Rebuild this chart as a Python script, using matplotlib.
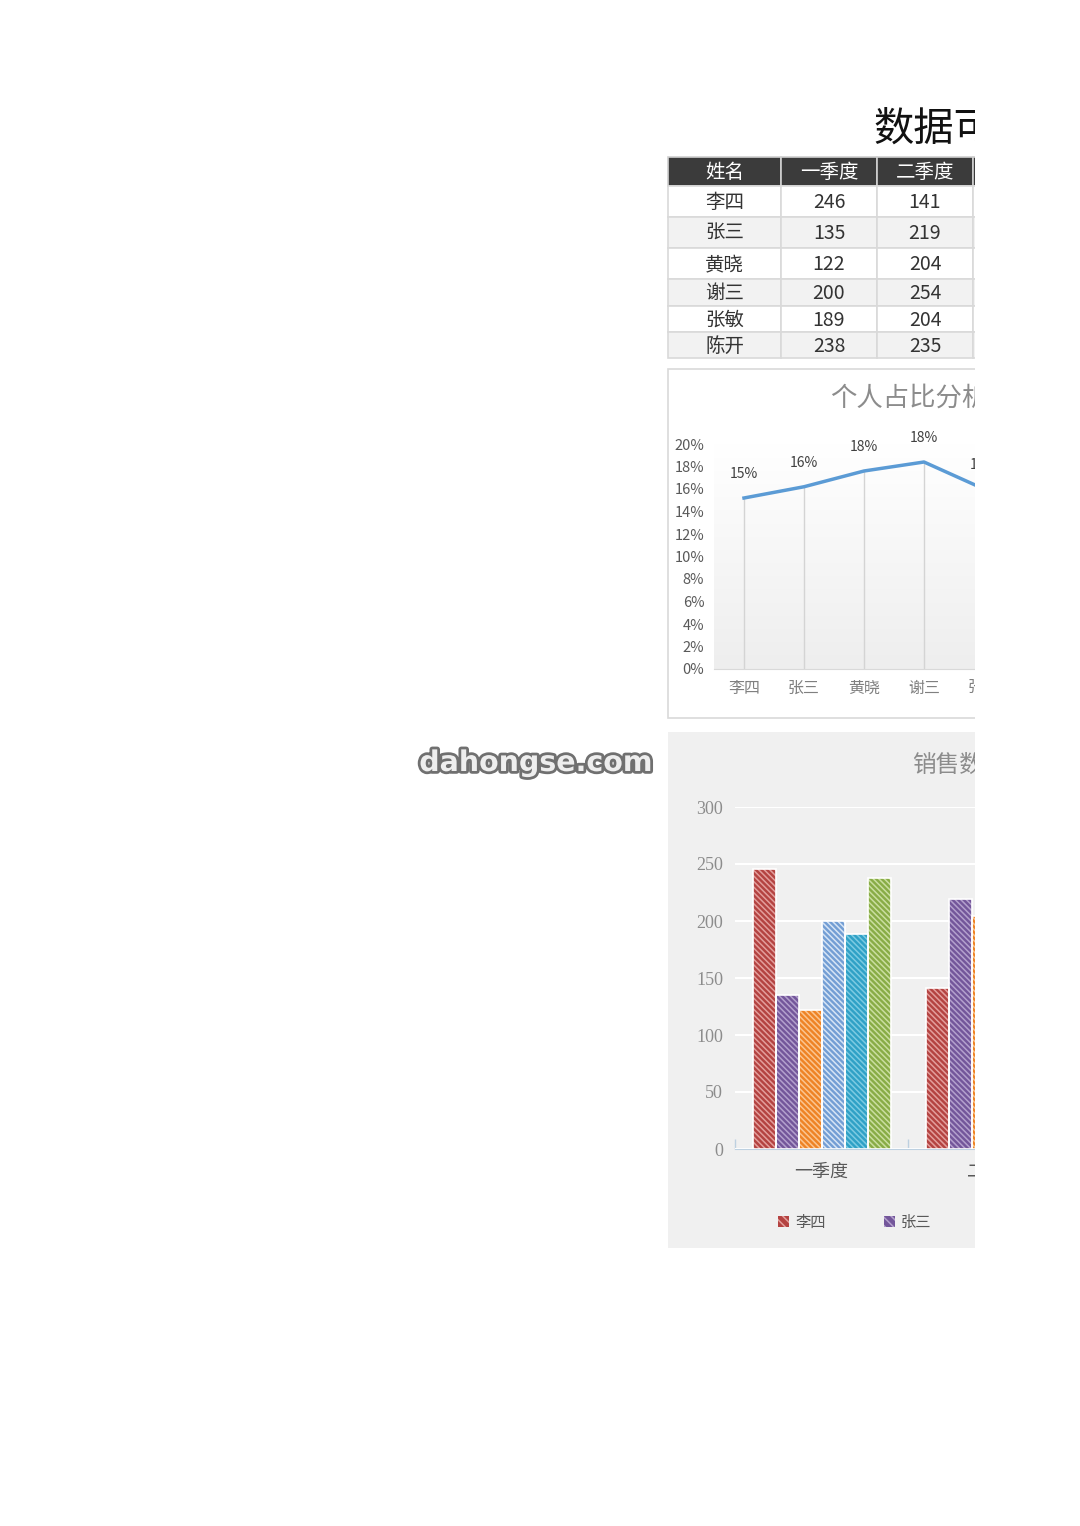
import numpy as np
import matplotlib
matplotlib.use("Agg")
import matplotlib.pyplot as plt
from matplotlib.patches import Rectangle, Patch
from matplotlib.colors import LinearSegmentedColormap
import matplotlib.patheffects as pe

plt.rcParams["font.family"] = ["Noto Sans CJK SC", "DejaVu Sans"]
plt.rcParams["axes.unicode_minus"] = False
plt.rcParams["hatch.linewidth"] = 1.1

# 数据
names = ["李四", "张三", "黄晓", "谢三", "张敏", "陈开"]
quarters = ["一季度", "二季度"]
q1 = [246, 135, 122, 200, 189, 238]
q2 = [141, 219, 204, 254, 204, 235]
share = [0.152, 0.162, 0.176, 0.184, 0.160, 0.167]

BASE = ["#b44341", "#73569a", "#ee8325", "#739ed4", "#2fa1c6", "#88ac46"]
LIGHT = ["#e39e9c", "#b3a0cd", "#fbc590", "#d6e4f5", "#7ccbe2", "#cadea0"]

W, H = 1080, 1526
fig = plt.figure(figsize=(W / 100, H / 100), dpi=100)
fig.patch.set_facecolor("white")


def fx(px):
    return px / W


def fy(py):
    return 1 - py / H


# 背景层: 表格和图表框
bg = fig.add_axes([0, 0, 1, 1], zorder=-1)
bg.set_xlim(0, W)
bg.set_ylim(H, 0)
bg.axis("off")

fig.text(fx(873), fy(129), "数据可视", fontsize=29, color="#111111",
         ha="left", va="center")

col_edges = [668, 781, 877, 973, 1070]
row_edges = [157, 186, 217, 248, 279, 306, 332, 358]
header = ["姓名"] + quarters + ["合计"]
table_rows = [[n, str(a), str(b), str(a + b)] for n, a, b in zip(names, q1, q2)]

for j, txt in enumerate(header):
    x0, x1 = col_edges[j], col_edges[j + 1]
    bg.add_patch(Rectangle((x0, row_edges[0]), x1 - x0, row_edges[1] - row_edges[0],
                           facecolor="#3b3b3b", edgecolor="#d0d0d0", lw=1.2))
    bg.text((x0 + x1) / 2, (row_edges[0] + row_edges[1]) / 2 + 1, txt,
            color="white", fontsize=14, ha="center", va="center")
for i, row in enumerate(table_rows):
    y0, y1 = row_edges[i + 1], row_edges[i + 2]
    fc = "white" if i % 2 == 0 else "#f2f2f2"
    for j, txt in enumerate(row):
        x0, x1 = col_edges[j], col_edges[j + 1]
        bg.add_patch(Rectangle((x0, y0), x1 - x0, y1 - y0, facecolor=fc,
                               edgecolor="#d9d9d9", lw=1.2))
        bg.text((x0 + x1) / 2, (y0 + y1) / 2 + 1, txt, color="#333333",
                fontsize=14, ha="center", va="center")

# 图表框
bg.add_patch(Rectangle((668, 369), 700, 349, facecolor="white", edgecolor="#d9d9d9", lw=1.2))
bg.add_patch(Rectangle((668, 732), 800, 516, facecolor="#f0f0f0", edgecolor="none"))

# 水印
wm = fig.text(fx(536), fy(763), "dahongse.com", fontsize=20.5, fontweight="bold",
              color="#eeeeee", ha="center", va="center", family="DejaVu Sans")
wm.set_path_effects([pe.withStroke(linewidth=4, foreground="#707070")])

# 折线图: 个人占比分析
fig.text(fx(830), fy(398), "个人占比分析", fontsize=19, color="#8c8c8c",
         ha="left", va="center")
ax1 = fig.add_axes([fx(714), fy(669), fx(360), (669 - 444) / H])
ax1.patch.set_alpha(0)
grad = LinearSegmentedColormap.from_list("g", ["#eeeeee", "#ffffff"])
ax1.imshow(np.linspace(0, 1, 256).reshape(-1, 1), cmap=grad, origin="lower",
           extent=[0, 1, 0, 1], transform=ax1.transAxes, aspect="auto", zorder=0)
x = np.arange(len(names))
ax1.vlines(x, 0, share, color="#d4d4d4", lw=1, zorder=1)
ax1.plot(x, share, color="#5b9bd5", lw=2.5, zorder=3)
for xi, v in zip(x, share):
    ax1.annotate(f"{v:.0%}", (xi, v), xytext=(0, 17), textcoords="offset points",
                 ha="center", va="center", fontsize=10, color="#404040")
ax1.set_xlim(-0.5, len(names) - 0.5)
ax1.set_ylim(0, 0.2)
ax1.set_yticks(np.arange(0, 0.201, 0.02))
ax1.set_yticklabels([f"{int(round(t * 100))}%" for t in np.arange(0, 0.201, 0.02)])
ax1.set_xticks(x)
ax1.set_xticklabels(names)
ax1.tick_params(axis="y", length=0, pad=7, labelsize=10.5, labelcolor="#595959")
ax1.tick_params(axis="x", length=0, pad=8, labelsize=11.5, labelcolor="#808080")
for s in ["top", "right", "left"]:
    ax1.spines[s].set_visible(False)
ax1.spines["bottom"].set_color("#d9d9d9")

# 柱状图: 销售数据
fig.text(fx(912), fy(765), "销售数据", fontsize=17, color="#8c8c8c",
         ha="left", va="center")
ax2 = fig.add_axes([fx(735), fy(1149), fx(346), (1149 - 807) / H])
ax2.patch.set_alpha(0)
xq = np.arange(len(quarters))
bw = 23 / 173
data = np.array([q1, q2]).T
for i, n in enumerate(names):
    pos = xq + (i - 2.5) * bw
    ax2.bar(pos, data[i], width=bw, facecolor=BASE[i], edgecolor=LIGHT[i],
            hatch="\\\\\\\\\\\\", lw=0, zorder=3)
    ax2.bar(pos, data[i], width=bw, fill=False, edgecolor="white", lw=1.2, zorder=4)
ax2.set_xlim(-0.5, len(quarters) - 0.5)
ax2.set_ylim(0, 300)
ax2.set_yticks(np.arange(0, 301, 50))
ax2.yaxis.grid(True, color="white", lw=1.5, zorder=0)
ax2.set_axisbelow(True)
ax2.set_xticks(xq)
ax2.set_xticklabels(quarters)
ax2.set_xticks(np.arange(-0.5, len(quarters)), minor=True)
ax2.tick_params(axis="x", which="major", length=0, pad=10, labelsize=13, labelcolor="#595959")
ax2.tick_params(axis="x", which="minor", length=7, direction="in", color="#bdd0e0", width=1)
ax2.tick_params(axis="y", length=0, pad=8.5, labelcolor="#8c8c8c")
for lab in ax2.get_yticklabels():
    lab.set_fontfamily("Liberation Serif")
    lab.set_fontsize(13)
for s in ["top", "right", "left"]:
    ax2.spines[s].set_visible(False)
ax2.spines["bottom"].set_color("#bdd0e0")

handles = [Patch(facecolor=BASE[i], edgecolor=LIGHT[i], hatch="\\\\\\\\", lw=0)
           for i in range(len(names))]
fig.legend(handles, names, ncol=6, loc="center left",
           bbox_to_anchor=(fx(772), fy(1222)), frameon=False, fontsize=11,
           handlelength=0.7, handleheight=0.7, handletextpad=0.4,
           columnspacing=3.85, labelcolor="#595959", borderaxespad=0)

# 页面在右侧被裁切
fig.patches.append(Rectangle((fx(975), 0), 1 - fx(975), 1, transform=fig.transFigure,
                             facecolor="white", edgecolor="none", zorder=20))

fig.savefig("out.png", dpi=100, facecolor="white")
